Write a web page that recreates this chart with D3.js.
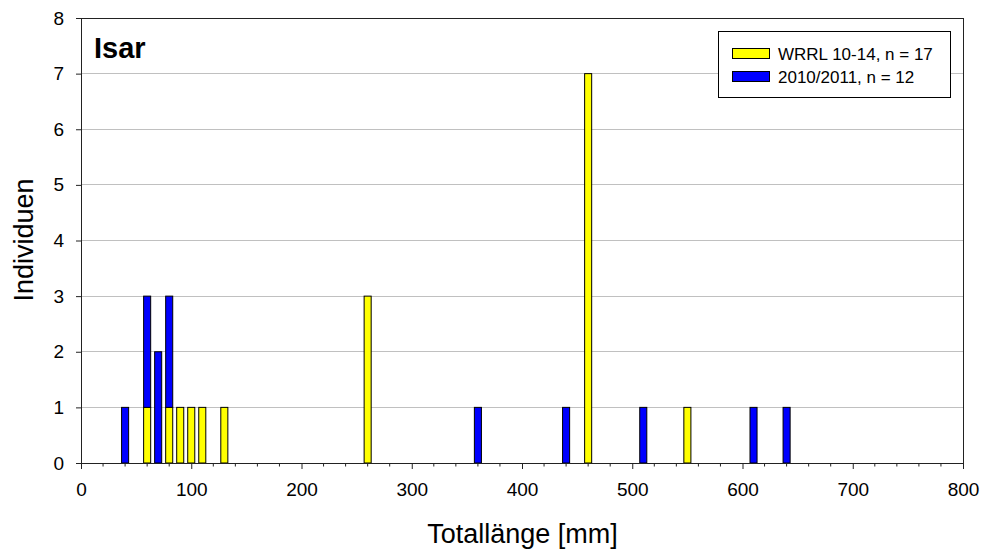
<!DOCTYPE html>
<html>
<head>
<meta charset="utf-8">
<script src="https://cdn.jsdelivr.net/npm/d3@7"></script>
<style>
html,body{margin:0;padding:0;background:#fff;}
svg{display:block;font-family:"Liberation Sans",Arial,sans-serif;}
</style>
</head>
<body>
<svg id="chart" width="985" height="554"></svg>
<script>
// Data
const lengths = [40, 60, 70, 80, 90, 100, 110, 130, 260, 360, 440, 460, 510, 550, 610, 640];
const wrrl    = [0, 1, 0, 1, 1, 1, 1, 1, 3, 0, 0, 7, 0, 1, 0, 0];
const y2010   = [1, 2, 2, 2, 0, 0, 0, 0, 0, 1, 1, 0, 1, 0, 1, 1];
const seriesNames = ["WRRL 10-14, n = 17", "2010/2011, n = 12"];
const seriesColors = ["#ffff00", "#0000ff"];
const xTicks = [0, 100, 200, 300, 400, 500, 600, 700, 800];
const yTicks = [0, 1, 2, 3, 4, 5, 6, 7, 8];
const title = "Isar";
const xTitle = "Totallänge [mm]";
const yTitle = "Individuen";

const svg = d3.select("#chart");
const L = 81, R = 963, T = 18, B = 463;
const x = d3.scaleLinear().domain([0, 800]).range([L, R]);
const y = d3.scaleLinear().domain([0, 8]).range([B, T]);

// gridlines
svg.append("g").selectAll("line").data(yTicks.filter(d => d > 0 && d < 8)).join("line")
  .attr("x1", L).attr("x2", R).attr("y1", d => y(d)).attr("y2", d => y(d))
  .attr("stroke", "#c0c0c0").attr("stroke-width", 1).attr("shape-rendering", "crispEdges");

// stacked bars
const table = lengths.map((l, i) => ({len: l, a: wrrl[i], b: y2010[i]}));
const stack = d3.stack().keys(["a", "b"])(table);
const bw = 6.4;
svg.append("g").selectAll("g").data(stack).join("g")
  .attr("fill", (d, i) => seriesColors[i])
  .selectAll("rect").data(d => d.filter(p => p[1] > p[0])).join("rect")
  .attr("x", d => x(d.data.len - bw / 2))
  .attr("width", d => x(bw) - x(0))
  .attr("y", d => y(d[1]))
  .attr("height", d => y(d[0]) - y(d[1]))
  .attr("stroke", "#000").attr("stroke-width", 1);

// plot border (top/right)
svg.append("path")
  .attr("d", `M${L},${T}H${R}V${B}`)
  .attr("fill", "none").attr("stroke", "#222").attr("stroke-width", 1).attr("shape-rendering", "crispEdges");

// x axis
const xAxis = d3.axisBottom(x).tickValues(xTicks).tickSize(6).tickPadding(14).tickFormat(d3.format("d"));
const gx = svg.append("g").attr("transform", `translate(0,${B})`).call(xAxis);
gx.select(".domain").attr("stroke", "#222");
gx.selectAll(".tick line").attr("stroke", "#222");
gx.selectAll("text").attr("font-size", 19).attr("fill", "#000").attr("font-family", "Liberation Sans, Arial, sans-serif");
// minor ticks
const minor = d3.range(0, 801, 20).filter(d => d % 100 !== 0);
svg.append("g").selectAll("line").data(minor).join("line")
  .attr("x1", d => x(d)).attr("x2", d => x(d)).attr("y1", B).attr("y2", B + 3.5)
  .attr("stroke", "#222").attr("stroke-width", 1);

// y axis
const yAxis = d3.axisLeft(y).tickValues(yTicks).tickSize(5).tickPadding(12).tickFormat(d3.format("d"));
const gy = svg.append("g").attr("transform", `translate(${L},0)`).call(yAxis);
gy.select(".domain").attr("stroke", "#222");
gy.selectAll(".tick line").attr("stroke", "#222");
gy.selectAll("text").attr("font-size", 19).attr("fill", "#000").attr("font-family", "Liberation Sans, Arial, sans-serif");

// axis titles
svg.append("text").attr("x", (L + R) / 2 + 0.5).attr("y", 543).attr("text-anchor", "middle")
  .attr("font-size", 27).text(xTitle);
svg.append("text").attr("transform", `translate(33,240) rotate(-90)`).attr("text-anchor", "middle")
  .attr("font-size", 27).text(yTitle);

// title
svg.append("text").attr("x", 94).attr("y", 58).attr("font-size", 29).attr("font-weight", "bold").text(title);

// legend
const lg = svg.append("g");
lg.append("rect").attr("x", 718.5).attr("y", 31.5).attr("width", 232).attr("height", 66)
  .attr("fill", "#fff").attr("stroke", "#000").attr("stroke-width", 1);
seriesNames.forEach((name, i) => {
  const yy = 48 + i * 23;
  lg.append("rect").attr("x", 732.5).attr("y", yy + 0.5).attr("width", 37).attr("height", 10)
    .attr("fill", seriesColors[i]).attr("stroke", "#000").attr("stroke-width", 1);
  lg.append("text").attr("x", 778).attr("y", yy + 12).attr("font-size", 17).text(name);
});
</script>
</body>
</html>
